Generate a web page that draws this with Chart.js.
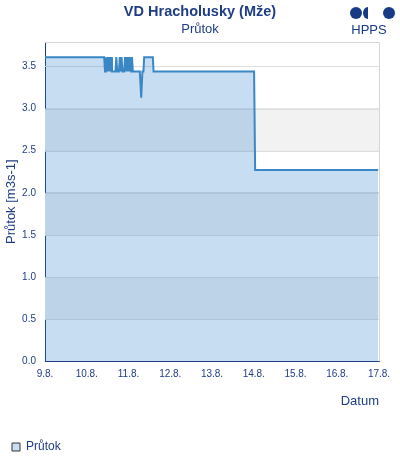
<!DOCTYPE html>
<html>
<head>
<meta charset="utf-8">
<script src="https://cdn.jsdelivr.net/npm/chart.js@4"></script>
<style>
  html, body { margin: 0; padding: 0; background: #fff; }
  #wrap { width: 400px; height: 460px; }
</style>
</head>
<body>
<div id="wrap"><canvas id="myChart" width="400" height="460"></canvas></div>
<script>
// hours since 9.8. 00:00 and flow values (m3/s)
const hours = [0, 34, 34.5, 35, 35.5, 36, 36.5, 37, 37.5, 38, 38.5,
  40.5, 41, 41.5,
  42.5, 43, 43.5, 44, 44.5,
  45.5, 46, 46.5, 47, 47.5, 48, 48.5, 49, 49.5, 50, 50.5,
  54.5, 55.3, 56, 56.6, 57, 62, 62.4, 120.2, 120.8, 191.5];
const flow = [3.61, 3.61, 3.44, 3.61, 3.44, 3.61, 3.44, 3.61, 3.44, 3.61, 3.44,
  3.44, 3.61, 3.44,
  3.44, 3.61, 3.44, 3.61, 3.44,
  3.44, 3.61, 3.44, 3.61, 3.44, 3.61, 3.44, 3.61, 3.44, 3.61, 3.44,
  3.44, 3.13, 3.44, 3.44, 3.61, 3.61, 3.44, 3.44, 2.27, 2.27];
const dateLabels = ['9.8.', '10.8.', '11.8.', '12.8.', '13.8.', '14.8.', '15.8.', '16.8.', '17.8.'];
const grayBands = [[0.5, 1.0], [1.5, 2.0], [2.5, 3.0]];
const yMax = 3.79;

const navy = '#1f3d84';
const fontFamily = '"Liberation Sans", Arial, sans-serif';

// alternating background bands + light frame on top/right
const bandsPlugin = {
  id: 'bands',
  beforeDatasetsDraw(chart) {
    const { ctx, chartArea, scales } = chart;
    ctx.save();
    ctx.fillStyle = '#f2f2f2';
    grayBands.forEach(([a, b]) => {
      const y1 = scales.y.getPixelForValue(b);
      const y2 = scales.y.getPixelForValue(a);
      ctx.fillRect(chartArea.left, y1, chartArea.right - chartArea.left, y2 - y1);
    });
    // redraw grid lines over bands
    ctx.strokeStyle = '#dedede';
    ctx.lineWidth = 1;
    scales.y.ticks.forEach(t => {
      if (t.value === 0) return;
      const y = Math.round(scales.y.getPixelForValue(t.value)) + 0.5;
      ctx.beginPath();
      ctx.moveTo(chartArea.left, y);
      ctx.lineTo(chartArea.right, y);
      ctx.stroke();
    });
    ctx.strokeStyle = '#d6d6d6';
    ctx.beginPath();
    ctx.moveTo(chartArea.left, chartArea.top + 0.5);
    ctx.lineTo(chartArea.right + 0.5, chartArea.top + 0.5);
    ctx.lineTo(chartArea.right + 0.5, chartArea.bottom);
    ctx.stroke();
    ctx.restore();
  }
};

// HPPS logo in the top right corner
const logoPlugin = {
  id: 'logo',
  afterDraw(chart) {
    const ctx = chart.ctx;
    ctx.save();
    ctx.fillStyle = '#173a84';
    ctx.beginPath();
    ctx.arc(356, 13, 6, 0, Math.PI * 2);
    ctx.fill();
    ctx.beginPath();
    ctx.ellipse(368, 13, 5, 6, 0, Math.PI / 2, Math.PI * 3 / 2);
    ctx.closePath();
    ctx.fill();
    ctx.beginPath();
    ctx.arc(389, 13, 6, 0, Math.PI * 2);
    ctx.fill();
    ctx.font = '13px ' + fontFamily;
    ctx.textAlign = 'center';
    ctx.textBaseline = 'middle';
    ctx.fillText('HPPS', 369, 30);
    ctx.restore();
  }
};

new Chart('myChart', {
  type: 'line',
  data: {
    datasets: [{
      label: 'Průtok',
      data: hours.map((h, i) => ({ x: h, y: flow[i] })),
      borderColor: '#3a87c6',
      backgroundColor: 'rgba(30, 120, 200, 0.25)',
      borderWidth: 2,
      pointRadius: 0,
      tension: 0,
      fill: 'origin'
    }]
  },
  options: {
    responsive: false,
    animation: false,
    layout: { padding: { left: 4, right: 4, top: 0, bottom: -3 } },
    plugins: {
      title: {
        display: true,
        text: 'VD Hracholusky (Mže)',
        color: navy,
        font: { family: fontFamily, size: 14.5, weight: 'bold' },
        padding: { top: 3, bottom: 0 }
      },
      subtitle: {
        display: true,
        text: 'Průtok',
        color: navy,
        font: { family: fontFamily, size: 13 },
        padding: { top: 1, bottom: 5 }
      },
      legend: {
        position: 'bottom',
        align: 'start',
        labels: {
          color: navy,
          font: { family: fontFamily, size: 12 },
          boxWidth: 8,
          boxHeight: 8,
          padding: 8,
          generateLabels: (chart) => chart.data.datasets.map((ds, i) => ({
            text: ds.label,
            fillStyle: '#c8def2',
            strokeStyle: '#333333',
            lineWidth: 1,
            fontColor: navy,
            datasetIndex: i
          }))
        }
      },
      tooltip: { enabled: false }
    },
    scales: {
      x: {
        type: 'linear',
        min: 0,
        max: 192,
        grid: { display: false, drawTicks: false },
        border: { display: true, color: navy, width: 1 },
        ticks: {
          stepSize: 24,
          padding: 7,
          maxRotation: 0,
          autoSkip: false,
          color: navy,
          font: { family: fontFamily, size: 10 },
          callback: (v) => dateLabels[v / 24]
        },
        title: {
          display: true,
          text: 'Datum',
          align: 'end',
          color: navy,
          font: { family: fontFamily, size: 13 },
          padding: { top: 6, bottom: 24 }
        }
      },
      y: {
        min: 0,
        max: yMax,
        grid: { color: '#dedede', drawTicks: false },
        border: { display: true, color: navy, width: 1 },
        ticks: {
          stepSize: 0.5,
          includeBounds: false,
          padding: 9,
          color: navy,
          font: { family: fontFamily, size: 10 },
          callback: (v) => v.toFixed(1)
        },
        title: {
          display: true,
          text: 'Průtok [m3s-1]',
          color: navy,
          font: { family: fontFamily, size: 13 },
          padding: { top: 0, bottom: 3 }
        },
        afterFit: (scale) => { scale.width = 41; }
      },
      // empty right-hand spacer so the plot ends where the reference does
      spacer: {
        position: 'right',
        min: 0,
        max: yMax,
        grid: { display: false, drawTicks: false },
        border: { display: false },
        ticks: { display: false },
        afterFit: (scale) => { scale.width = 17; }
      }
    }
  },
  plugins: [bandsPlugin, logoPlugin]
});
</script>
</body>
</html>
